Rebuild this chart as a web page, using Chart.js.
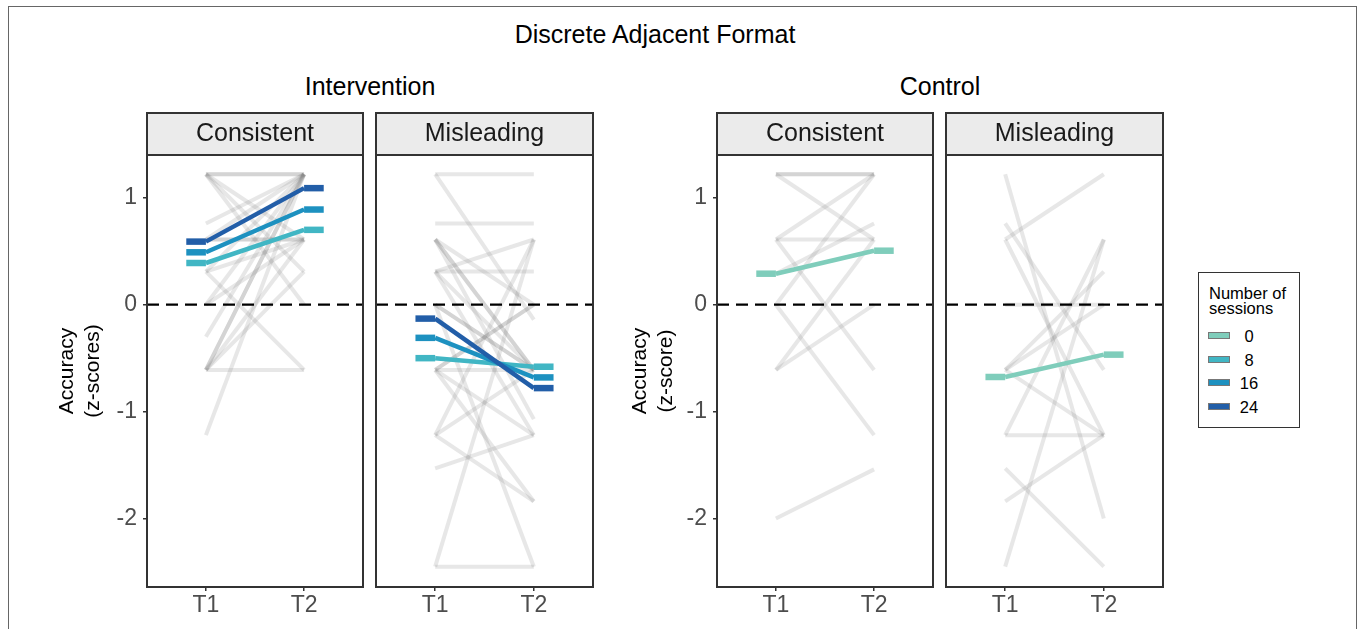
<!DOCTYPE html>
<html>
<head>
<meta charset="utf-8">
<script src="https://cdn.jsdelivr.net/npm/chart.js@4.4.1/dist/chart.umd.min.js"></script>
<style>
  body { margin: 0; background: #fff; }
  #page { position: relative; width: 1363px; height: 629px; overflow: hidden; background: #fff;
          font-family: "Liberation Sans", Arial, Helvetica, sans-serif; }
  #frame { position: absolute; left: 8px; top: 6px; width: 1347px; height: 660px; border: 1px solid #666; }
  .ttl { position: absolute; font-size: 25px; line-height: 25px; color: #000; transform: translateX(-50%); white-space: nowrap; }
  canvas { position: absolute; }
  #legend { position: absolute; left: 1198px; top: 272px; width: 100px; height: 154px; border: 1.5px solid #333; }
  #legend .lt { position: absolute; left: 10px; top: 13px; font-size: 16.5px; line-height: 14.5px; color: #000; }
  #legend .key { position: absolute; left: 9px; width: 20px; height: 5px; border: 1px solid #777; }
  #legend .lab { position: absolute; left: 36px; width: 28px; text-align: center; font-size: 16.5px; line-height: 16px; color: #000; }
</style>
</head>
<body>
<div id="page">
  <div id="frame"></div>
  <div class="ttl" style="left:655px; top:22px;">Discrete Adjacent Format</div>
  <div class="ttl" style="left:370px; top:74px;">Intervention</div>
  <div class="ttl" style="left:940px; top:74px;">Control</div>
  <canvas id="p1" width="317" height="524" style="left:50px; top:105px;"></canvas>
  <canvas id="p2" width="225" height="524" style="left:372px; top:105px;"></canvas>
  <canvas id="p3" width="314" height="524" style="left:623px; top:105px;"></canvas>
  <canvas id="p4" width="225" height="524" style="left:942px; top:105px;"></canvas>
  <div id="legend"><div class="lt">Number of<br>sessions</div></div>
</div>
<script>
// 数据
const timeLabels = ['T1', 'T2'];
const yTicks = [-2, -1, 0, 1];
const sessionLevels = [0, 8, 16, 24];
const sessionColors = ['#7fcdbb', '#41b6c4', '#1d91c0', '#225ea8'];

// 个体 (grey lines), Intervention / Consistent
const intConsT1 = [1.22, 1.22, 1.22, 1.22, 0.76, 0.61, 0.61, 0.31, 0.31, 0.00, 0.00, -0.30, -0.61, -0.61, -0.61, -0.61, -0.61, -1.22, 0.61, 0.31, 1.22];
const intConsT2 = [1.22, 1.22, 0.31, 0.00, 1.22, 0.61, 1.22, 1.22, -0.61, 0.61, 1.22, 1.22, 1.22, 1.22, -0.61, 0.61, 0.31, 1.22, 0.61, 0.61, 0.61];
// Intervention / Misleading
const intMisT1 = [1.22, 1.22, 0.76, 0.61, 0.61, 0.61, 0.61, 0.31, 0.31, 0.31, 0.31, 0.00, 0.00, -0.61, -0.61, -0.61, -0.61, -0.61, -1.22, -1.22, -1.22, -1.53, -2.45, -2.45, 0.00];
const intMisT2 = [1.22, -0.14, 0.76, 0.00, -0.61, -0.61, -1.07, 0.61, 0.31, -0.61, -1.22, -0.61, -0.61, 0.00, -0.61, -1.22, -1.84, 0.00, -1.84, -0.61, 0.61, -1.22, -2.45, 0.61, -2.45];
// Control / Consistent
const ctlConsT1 = [1.22, 1.22, 1.22, 0.61, 0.61, 0.61, 0.29, 0.00, 0.00, -0.61, -0.61, -2.00];
const ctlConsT2 = [1.22, 1.22, 0.61, 1.22, 0.61, -0.61, 0.76, -1.22, 1.22, 0.00, 0.61, -1.54];
// Control / Misleading
const ctlMisT1 = [1.22, 0.76, 0.61, 0.61, 0.00, -0.61, -0.61, -0.61, -1.22, -1.22, -1.84, -1.53, -2.45];
const ctlMisT2 = [-2.00, -0.61, 1.22, -1.22, 0.00, 0.31, -1.22, 0.00, -1.22, 0.61, -1.22, -2.45, 0.61];

// 平均值 (group means)
const intSessions = [8, 16, 24];
const intConsMeanT1 = [0.39, 0.49, 0.59];
const intConsMeanT2 = [0.70, 0.89, 1.09];
const intMisMeanT1 = [-0.50, -0.31, -0.13];
const intMisMeanT2 = [-0.58, -0.68, -0.78];
const ctlSessions = [0];
const ctlConsMeanT1 = [0.29];
const ctlConsMeanT2 = [0.505];
const ctlMisMeanT1 = [-0.676];
const ctlMisMeanT2 = [-0.467];

const fontFamily = '"Liberation Sans", Arial, Helvetica, sans-serif';
const greyLine = 'rgba(120, 120, 120, 0.18)';

// 构建数据集
function buildDatasets(t1, t2, sessions, m1, m2) {
  const ds = [];
  // later sessions drawn on top
  for (let i = sessions.length - 1; i >= 0; i--) {
    const col = sessionColors[sessionLevels.indexOf(sessions[i])];
    ds.push({ data: [{ x: 0.8, y: m1[i] }, { x: 1, y: m1[i] }], borderColor: col, borderWidth: 6.5, order: 0 });
    ds.push({ data: [{ x: 2, y: m2[i] }, { x: 2.2, y: m2[i] }], borderColor: col, borderWidth: 6.5, order: 0 });
    ds.push({ data: [{ x: 1, y: m1[i] }, { x: 2, y: m2[i] }], borderColor: col, borderWidth: 4.5, order: 0 });
  }
  ds.push({ data: [{ x: 0.4, y: 0 }, { x: 2.6, y: 0 }], borderColor: '#000', borderWidth: 2.2, borderDash: [12, 7], order: 1 });
  t1.forEach((v, i) => {
    ds.push({ data: [{ x: 1, y: v }, { x: 2, y: t2[i] }], borderColor: greyLine, borderWidth: 4, order: 2 });
  });
  return ds;
}

// 面板边框和标签条
const panelFrame = {
  id: 'panelFrame',
  afterDraw(chart, args, opts) {
    const { ctx, chartArea: a } = chart;
    ctx.save();
    ctx.fillStyle = '#ebebeb';
    ctx.fillRect(a.left, a.top - 42, a.right - a.left, 42);
    ctx.strokeStyle = '#333';
    ctx.lineWidth = 2;
    ctx.strokeRect(a.left, a.top - 42, a.right - a.left, 42);
    ctx.strokeRect(a.left, a.top, a.right - a.left, a.bottom - a.top);
    ctx.fillStyle = '#1a1a1a';
    ctx.font = '25px ' + fontFamily;
    ctx.textAlign = 'center';
    ctx.textBaseline = 'middle';
    ctx.fillText(opts.text, (a.left + a.right) / 2, a.top - 21);
    ctx.restore();
  }
};

function makePanel(id, strip, datasets, yTitle, yWidth, pad) {
  return new Chart(document.getElementById(id), {
    type: 'line',
    data: { datasets: datasets },
    options: {
      responsive: false,
      animation: false,
      layout: { padding: pad },
      elements: { point: { radius: 0 }, line: { tension: 0 } },
      plugins: {
        legend: { display: false },
        tooltip: { enabled: false },
        panelFrame: { text: strip }
      },
      scales: {
        x: {
          type: 'linear',
          min: 0.4,
          max: 2.6,
          afterBuildTicks: s => { s.ticks = [{ value: 1 }, { value: 2 }]; },
          afterFit: s => { s.height = 42; },
          ticks: {
            callback: v => timeLabels[Math.round(v) - 1],
            font: { family: fontFamily, size: 23 },
            color: '#4d4d4d',
            padding: 1,
            maxRotation: 0
          },
          grid: { drawOnChartArea: false, tickLength: 4, color: '#333', lineWidth: 1.5 },
          border: { display: false }
        },
        y: {
          type: 'linear',
          display: yTitle !== null,
          min: -2.64,
          max: 1.40,
          afterBuildTicks: s => { s.ticks = yTicks.map(v => ({ value: v })); },
          afterFit: s => { s.width = yWidth; },
          ticks: {
            font: { family: fontFamily, size: 23 },
            color: '#4d4d4d',
            padding: 6
          },
          grid: { drawOnChartArea: false, tickLength: 4, color: '#333', lineWidth: 1.5 },
          border: { display: false },
          title: {
            display: yTitle !== null,
            text: yTitle || '',
            font: { family: fontFamily, size: 21 },
            color: '#000',
            padding: { top: 5, bottom: 0 }
          }
        }
      }
    },
    plugins: [panelFrame]
  });
}

makePanel('p1', 'Consistent', buildDatasets(intConsT1, intConsT2, intSessions, intConsMeanT1, intConsMeanT2),
  ['Accuracy', '(z-scores)'], 97, { top: 50, right: 4, left: 0, bottom: 0 });
makePanel('p2', 'Misleading', buildDatasets(intMisT1, intMisT2, intSessions, intMisMeanT1, intMisMeanT2),
  null, 0, { top: 50, right: 4, left: 4, bottom: 0 });
makePanel('p3', 'Consistent', buildDatasets(ctlConsT1, ctlConsT2, ctlSessions, ctlConsMeanT1, ctlConsMeanT2),
  ['Accuracy', '(z-score)'], 94, { top: 50, right: 4, left: 0, bottom: 0 });
makePanel('p4', 'Misleading', buildDatasets(ctlMisT1, ctlMisT2, ctlSessions, ctlMisMeanT1, ctlMisMeanT2),
  null, 0, { top: 50, right: 4, left: 4, bottom: 0 });

// 图例
const legend = document.getElementById('legend');
const keyTops = [331, 354.5, 378, 401.5];
sessionLevels.forEach((s, i) => {
  const key = document.createElement('div');
  key.className = 'key';
  key.style.top = (keyTops[i] - 272) + 'px';
  key.style.background = sessionColors[i];
  legend.appendChild(key);
  const lab = document.createElement('div');
  lab.className = 'lab';
  lab.style.top = (keyTops[i] - 272 - 4) + 'px';
  lab.textContent = s;
  legend.appendChild(lab);
});
</script>
</body>
</html>
